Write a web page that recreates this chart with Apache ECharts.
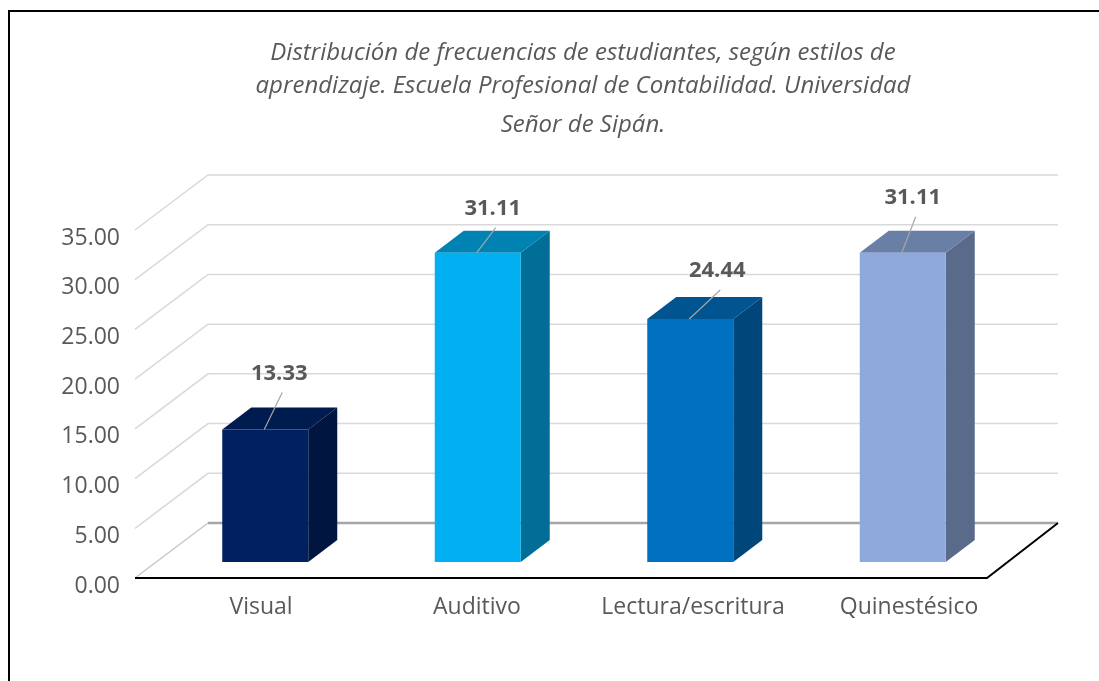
<!DOCTYPE html>
<html>
<head>
<meta charset="utf-8">
<script src="https://cdn.jsdelivr.net/npm/echarts@6/dist/echarts.min.js"></script>
<style>
html,body{margin:0;padding:0;background:#fff;}
#chart{width:1099px;height:681px;}
</style>
</head>
<body>
<div id="chart"></div>
<script>
const categories = ['Visual', 'Auditivo', 'Lectura/escritura', 'Quinestésico'];
const values = [13.33, 31.11, 24.44, 31.11];
const yTicks = [0, 5, 10, 15, 20, 25, 30, 35];
const titleLines = [
  'Distribución de frecuencias de estudiantes, según estilos de',
  'aprendizaje. Escuela Profesional de Contabilidad. Universidad',
  'Señor de Sipán.'
];

// layout / style (not data)
const frontColors = ['#002060', '#00B0F0', '#0070C0', '#8EA9DB'];
const topColors   = ['#001B50', '#0083B3', '#00548F', '#6A7FA5'];
const sideColors  = ['#001540', '#006E96', '#00467A', '#5A6A8A'];
const labelNudge = [[14, -56], [15, -44], [27, -48], [10, -55]];
const DEPTH_DX = -73, DEPTH_DY = 55;      // back wall -> front edge
const BAR_DX = -49, BAR_DY = 39;          // back wall -> bar front face
const BAR_HW = 43, BAR_SDX = 29, BAR_SDY = -22;
const FONT = '"Open Sans", "DejaVu Sans", sans-serif';

const chart = echarts.init(document.getElementById('chart'), null, {renderer: 'canvas'});

const titleTops = [36, 69, 108];
const option = {
  animation: false,
  backgroundColor: '#ffffff',
  title: titleLines.map((t, i) => ({
    text: t,
    left: 578,
    top: titleTops[i],
    textAlign: 'center',
    textStyle: {fontFamily: FONT, fontStyle: 'italic', fontWeight: 'normal', fontSize: 24, color: '#595959'}
  })),
  graphic: [{
    type: 'rect', shape: {x: 9, y: 11, width: 1200, height: 1000},
    style: {fill: 'none', stroke: '#000', lineWidth: 2}, silent: true
  }],
  grid: [
    {left: 208, right: 41, top: 175, bottom: 158},      // back wall
    {left: 128, right: 114, top: 238, bottom: 95},      // front y labels
    {left: 153, right: 82, top: 500, bottom: 96}        // category labels
  ],
  xAxis: [
    {gridIndex: 0, type: 'category', data: categories, show: false},
    {gridIndex: 1, type: 'value', show: false},
    {gridIndex: 2, type: 'category', data: categories,
      axisLine: {show: false}, axisTick: {show: false}, splitLine: {show: false},
      axisLabel: {interval: 0, margin: 11, fontFamily: FONT, fontSize: 23, color: '#595959'}}
  ],
  yAxis: [
    {gridIndex: 0, type: 'value', min: 0, max: 35, interval: 5, show: false},
    {gridIndex: 1, type: 'value', min: 0, max: 35, interval: 5,
      axisLine: {show: false}, axisTick: {show: false}, splitLine: {show: false},
      axisLabel: {margin: 8, fontFamily: FONT, fontSize: 23, color: '#595959',
        formatter: v => v.toFixed(2)}},
    {gridIndex: 2, type: 'value', show: false}
  ],
  series: [
    {
      type: 'custom', xAxisIndex: 0, yAxisIndex: 0, z: 1, silent: true,
      data: yTicks.map(v => [0, v]),
      renderItem: function (params, api) {
        const v = api.value(1);
        const y = api.coord([0, v])[1];
        const cs = params.coordSys;
        const x0 = cs.x, x1 = cs.x + cs.width;
        if (v === 0) {
          return {type: 'group', children: [
            {type: 'polyline', shape: {points: [[x0 + DEPTH_DX, y + DEPTH_DY], [x0, y]]},
              style: {stroke: '#c8c8c8', lineWidth: 1.5, fill: null}},
            {type: 'polyline', shape: {points: [[x0, y], [x1, y]]},
              style: {stroke: '#a6a6a6', lineWidth: 2.5, fill: null}},
            {type: 'polyline', shape: {points: [[x0 + DEPTH_DX, y + DEPTH_DY], [x1 + DEPTH_DX + 2, y + DEPTH_DY], [x1, y]]},
              style: {stroke: '#000', lineWidth: 2, fill: null}}
          ]};
        }
        return {type: 'polyline', shape: {points: [[x0 + DEPTH_DX, y + DEPTH_DY], [x0, y], [x1, y]]},
          style: {stroke: '#d9d9d9', lineWidth: 1.5, fill: null}};
      }
    },
    {
      type: 'custom', xAxisIndex: 0, yAxisIndex: 0, z: 3, silent: true,
      data: values.map((v, i) => [i, v]),
      renderItem: function (params, api) {
        const i = api.value(0), v = api.value(1);
        const ct = api.coord([i, v]);
        const cb = api.coord([i, 0]);
        const fx = ct[0] + BAR_DX;
        const yt = ct[1] + BAR_DY, yb = cb[1] + BAR_DY;
        const l = fx - BAR_HW, r = fx + BAR_HW;
        const n = labelNudge[i];
        const lx = fx + n[0], ly = yt + n[1];
        return {type: 'group', children: [
          {type: 'polygon', shape: {points: [[r, yt], [r + BAR_SDX, yt + BAR_SDY], [r + BAR_SDX, yb + BAR_SDY], [r, yb]]},
            style: {fill: sideColors[i]}},
          {type: 'polygon', shape: {points: [[l, yt], [r, yt], [r + BAR_SDX, yt + BAR_SDY], [l + BAR_SDX, yt + BAR_SDY]]},
            style: {fill: topColors[i]}},
          {type: 'rect', shape: {x: l, y: yt, width: r - l, height: yb - yt},
            style: {fill: frontColors[i]}},
          {type: 'line', shape: {x1: lx + 3, y1: ly + 19, x2: fx - 1, y2: yt},
            style: {stroke: '#a6a6a6', lineWidth: 1.2}},
          {type: 'text', style: {text: v.toFixed(2), x: lx, y: ly, align: 'center', verticalAlign: 'middle',
            font: 'bold 22px ' + FONT, fill: '#595959'}}
        ]};
      }
    }
  ]
};
chart.setOption(option);
</script>
</body>
</html>
